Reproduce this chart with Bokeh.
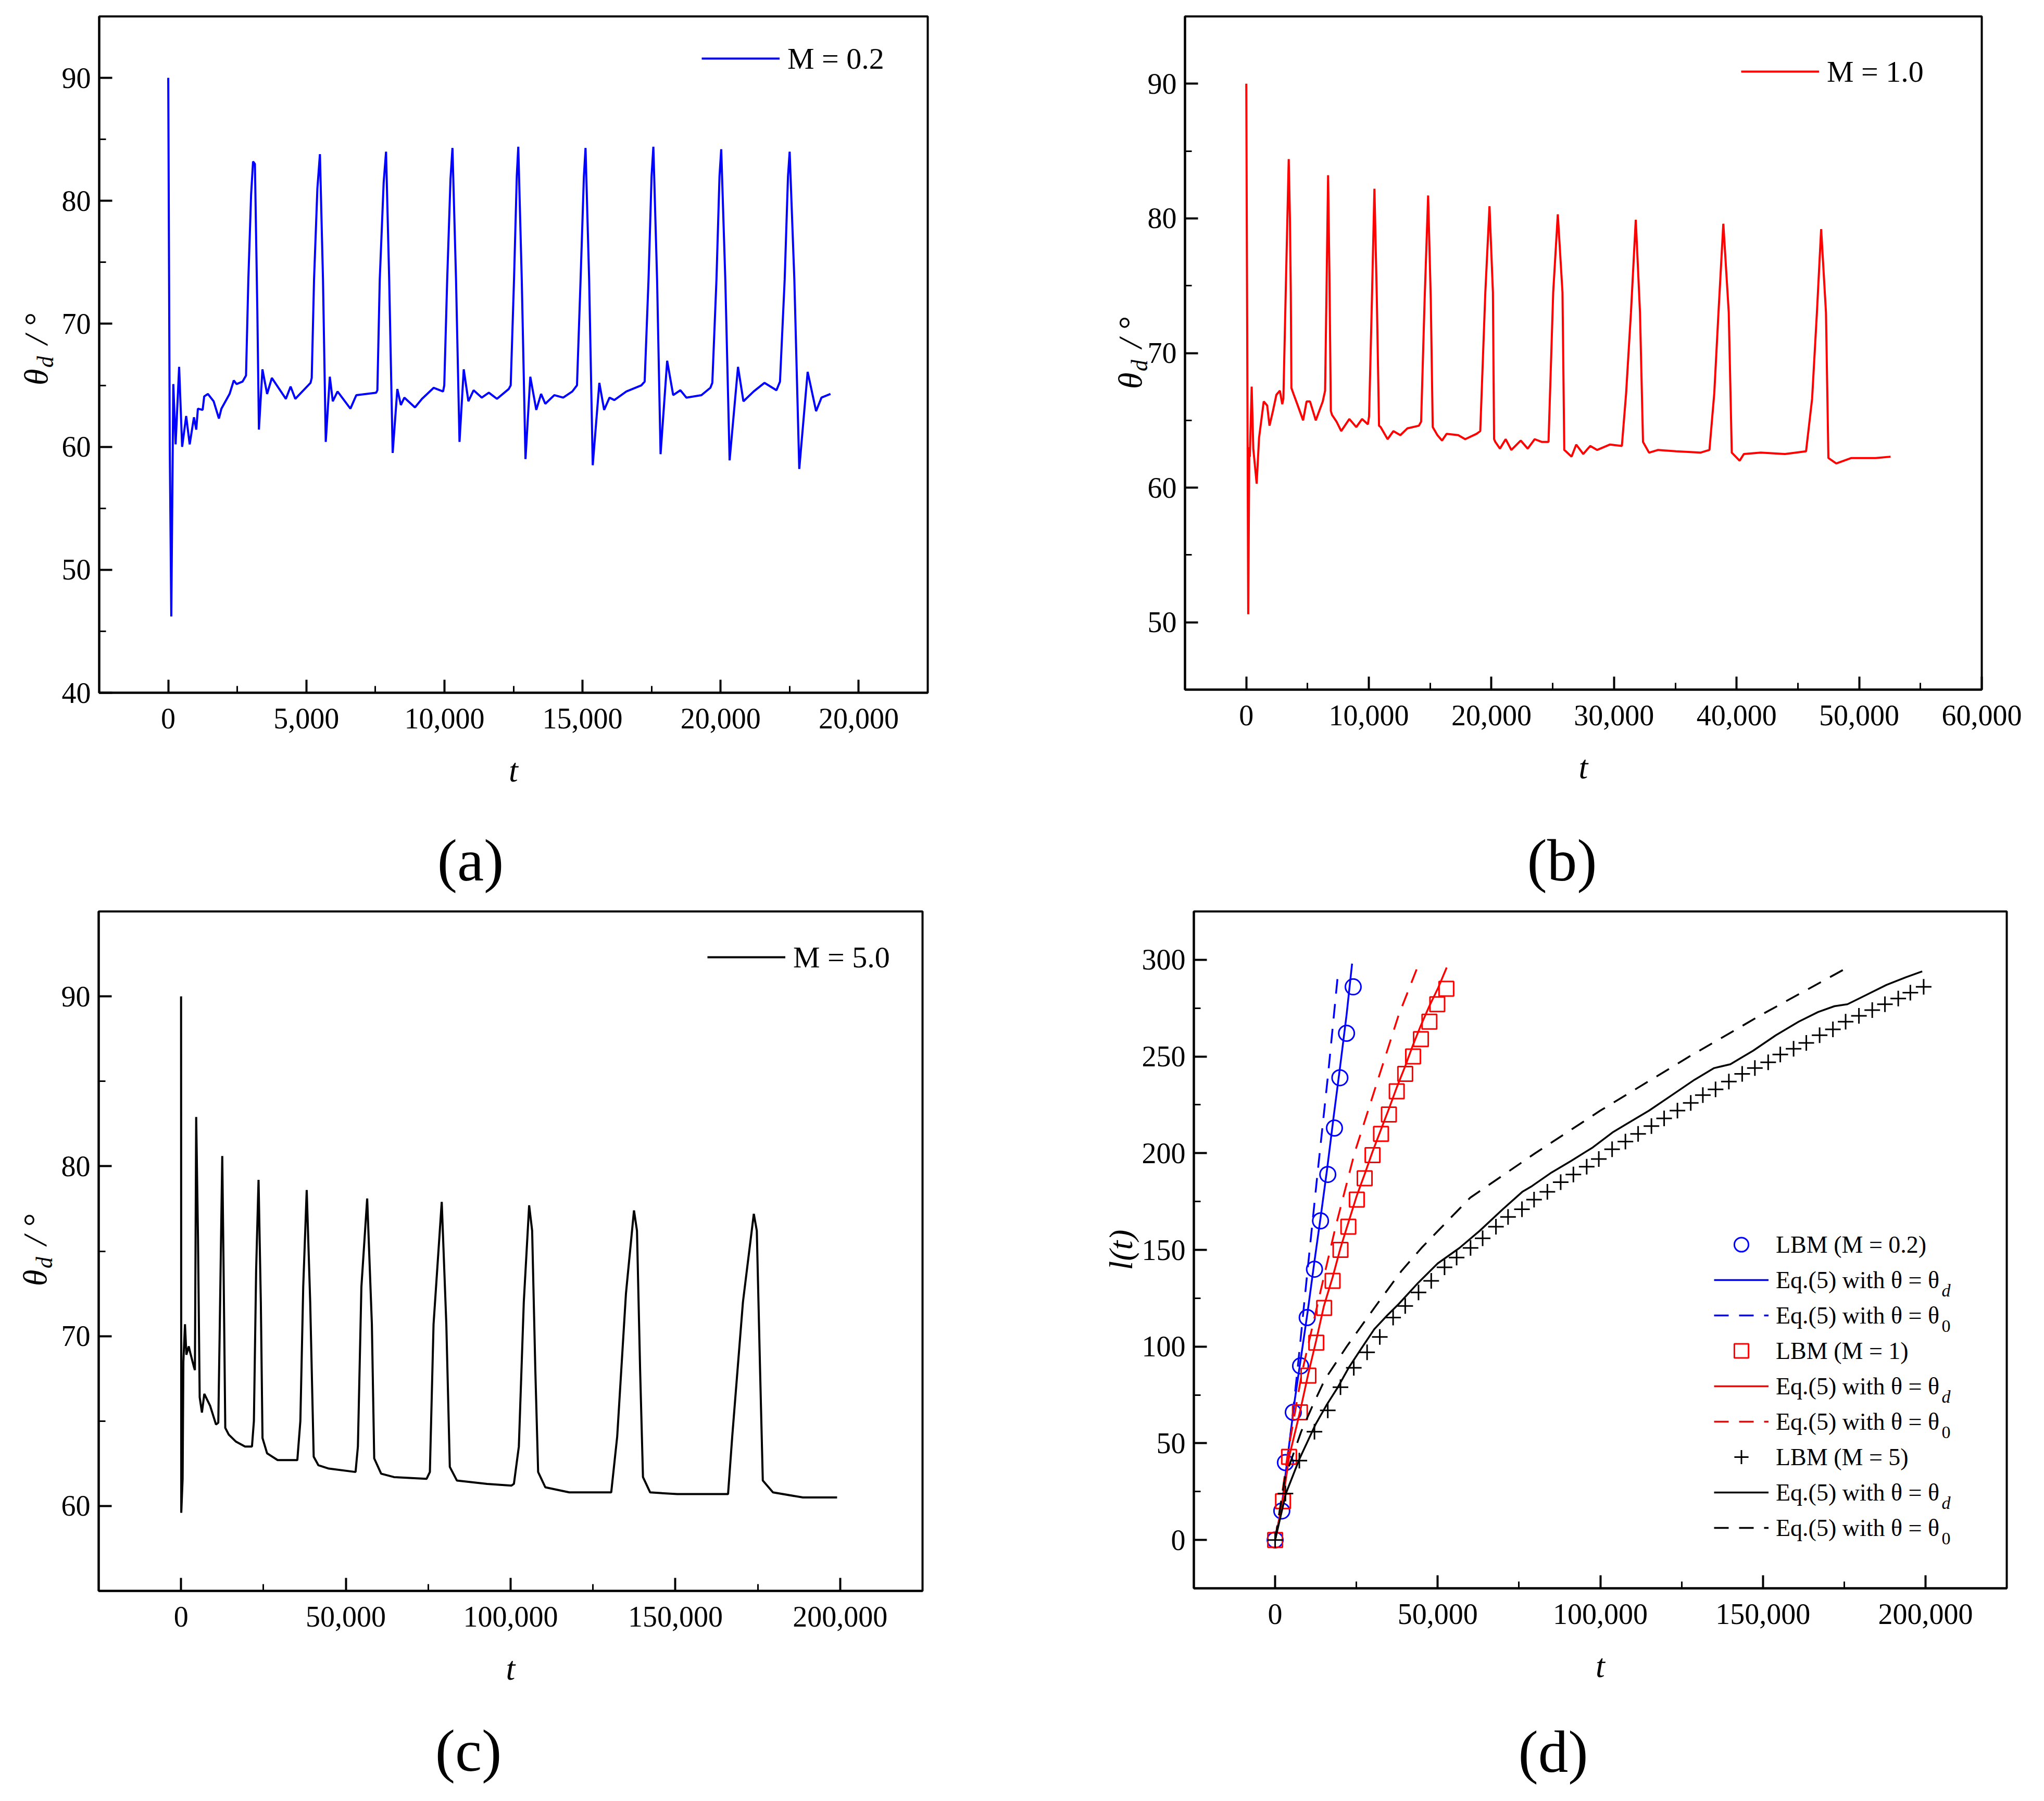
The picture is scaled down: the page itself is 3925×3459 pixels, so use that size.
import math

from bokeh.embed import file_html
from bokeh.layouts import column, row
from bokeh.models import FixedTicker, Label, Legend, LegendItem, Range1d
from bokeh.plotting import figure
from bokeh.resources import INLINE

SERIF = "Liberation Serif"
BLUE = "#0000FF"
RED = "#FF0000"
BLACK = "#000000"

# ---------------- (a) contact angle, M = 0.2 ----------------
a_t = [0, 55, 110, 183, 267, 394, 503, 649, 776, 930, 1014, 1073,
       1245, 1302, 1435, 1644, 1835, 1924, 2221, 2373, 2476, 2689, 2816,
       2900, 3000, 3071, 3138, 3225, 3283, 3410, 3580, 3751, 4259, 4430, 4600, 5152,
       5195, 5279, 5400, 5492, 5603, 5703, 5850, 5958, 6130, 6596, 6809, 7530,
       7572, 7658, 7800, 7886, 8000, 8126, 8295, 8423, 8550, 8933, 9188, 9612, 9951,
       9994, 10100, 10220, 10291, 10420, 10546, 10699, 10868, 11056, 11353, 11608, 11902, 12329,
       12400, 12520, 12620, 12674, 12800, 12935, 13109, 13326, 13500, 13652, 13978, 14300, 14630,
       14800, 14930, 15050, 15109, 15240, 15370, 15609, 15783, 15978, 16152, 16587, 17130,
       17250, 17390, 17500, 17565, 17700, 17826, 18065, 18283, 18543, 18761, 19304, 19630,
       19700, 19850, 19960, 20022, 20170, 20326, 20630, 20826, 21196, 21587, 22022,
       22150, 22320, 22440, 22500, 22670, 22848, 23152, 23457, 23652, 23978]
a_theta = [90.0, 60.0, 46.2, 65.1, 60.2, 66.5, 60.0, 62.5, 60.2, 62.4, 61.4, 63.1,
           63.0, 64.1, 64.3, 63.7, 62.3, 63.1, 64.3, 65.4, 65.1, 65.3, 65.8,
           73.6, 80.5, 83.2, 83.0, 71.2, 61.4, 66.3, 64.3, 65.6, 63.9, 64.9, 63.9, 65.2,
           65.6, 73.6, 81.0, 83.8, 73.6, 60.4, 65.7, 63.7, 64.5, 63.1, 64.2, 64.4,
           64.6, 73.6, 81.5, 84.0, 73.6, 59.5, 64.7, 63.4, 64.0, 63.2, 63.9, 64.8, 64.5,
           65.0, 73.6, 81.8, 84.3, 73.6, 60.4, 66.3, 63.7, 64.6, 64.0, 64.4, 63.9, 64.7,
           65.0, 73.6, 82.0, 84.4, 73.6, 59.0, 65.7, 63.0, 64.3, 63.5, 64.2, 64.0, 64.5,
           65.0, 73.6, 82.0, 84.3, 73.6, 58.5, 65.2, 63.0, 64.0, 63.8, 64.5, 65.0,
           65.3, 73.6, 82.0, 84.4, 73.6, 59.4, 67.0, 64.2, 64.6, 64.0, 64.2, 64.8,
           65.2, 73.6, 82.0, 84.2, 73.6, 58.9, 66.5, 63.7, 64.5, 65.2, 64.6,
           65.3, 73.6, 82.0, 84.0, 73.6, 58.2, 66.1, 62.9, 64.0, 64.3]

# ---------------- (b) contact angle, M = 1.0 ----------------
b_t = [0, 157, 246, 288, 440, 571, 846, 1041, 1422, 1705, 1893, 2175, 2456, 2742, 2932, 3026,
       3216, 3462, 3560, 3631, 3682, 3877, 4160, 4634, 4918, 5200, 5671, 6238, 6429,
       6550, 6674, 6780, 6898, 6995, 7364, 7744, 8409, 8973, 9446, 9920, 10017,
       10250, 10453, 10650, 10830, 10961, 11529, 11998, 12569, 13133, 14080, 14262,
       14550, 14834, 15050, 15210, 15592, 15968, 16345, 17288, 17859, 18790, 19087,
       19500, 19840, 20120, 20216, 20313, 20694, 21159, 21625, 22388, 22958, 23526, 24093, 24656,
       25037, 25413, 25795, 25942, 26069, 26535, 26915, 27490, 28059, 28627, 29655, 30640,
       30985, 31380, 31773, 32118, 32365, 32857, 33596, 35074, 37044, 37783,
       38177, 38521, 38916, 39359, 39606, 40246, 40591, 41970, 43941, 45665,
       46158, 46551, 46897, 47290, 47488, 48128, 49360, 51330, 52562]
b_theta = [90.0, 50.6, 63.0, 62.3, 67.5, 62.9, 60.3, 63.7, 66.4, 66.1, 64.6, 65.7, 66.9, 67.2, 66.2, 66.6,
           74.5, 84.4, 80.0, 74.5, 67.4, 66.9, 66.2, 65.0, 66.4, 66.4, 65.0, 66.4, 67.2,
           75.0, 83.2, 76.0, 65.7, 65.4, 64.9, 64.2, 65.1, 64.5, 65.1, 64.7, 65.3,
           74.0, 82.2, 74.0, 64.6, 64.5, 63.6, 64.2, 63.9, 64.4, 64.6, 64.9,
           74.0, 81.7, 74.0, 64.5, 63.9, 63.5, 64.0, 63.9, 63.6, 64.0, 64.2,
           74.5, 80.9, 74.5, 63.6, 63.4, 62.9, 63.6, 62.8, 63.5, 62.9, 63.6, 63.4, 63.4,
           74.5, 80.3, 74.5, 62.8, 62.7, 62.3, 63.2, 62.5, 63.1, 62.8, 63.2, 63.1,
           67.0, 73.0, 79.9, 73.0, 63.4, 62.6, 62.8, 62.7, 62.6, 62.8,
           67.0, 73.0, 79.6, 73.0, 62.6, 62.0, 62.5, 62.6, 62.5, 62.7,
           66.6, 73.0, 79.2, 73.0, 62.2, 61.8, 62.2, 62.2, 62.3]

# ---------------- (c) contact angle, M = 5.0 ----------------
c_t = [0, 60, 474, 696, 1187, 1614, 2326, 2816, 3876, 4200,
       4588, 5142, 5648, 6328, 7056, 8812, 10600, 11295,
       11700, 12498, 12900, 13415, 14475, 16579, 19411, 21515,
       22100, 22781, 23509, 24205, 24711, 26103, 29300, 32115, 35279,
       36200, 37067, 38126, 39186, 40247, 41655, 44834, 52950,
       53660, 54720, 56475, 57900, 58612, 60716, 64608, 74512,
       75500, 76616, 79100, 80492, 81552, 83688, 92862, 100269,
       101000, 102500, 104000, 105626, 106535, 107500, 108353, 110535, 117807, 130533,
       132351, 135000, 137441, 138350, 139300, 140168, 142350, 150531, 165984,
       167257, 170500, 173801, 174710, 175700, 176528, 179619, 188709, 199071]
c_theta = [90.0, 59.6, 61.6, 68.5, 70.7, 68.9, 69.4, 69.0, 68.2, 68.0,
           82.9, 75.7, 66.4, 65.5, 66.6, 65.9, 64.8, 64.9,
           70.0, 80.6, 74.0, 64.6, 64.2, 63.8, 63.5, 63.5,
           65.0, 73.9, 79.2, 72.0, 64.0, 63.1, 62.7, 62.7, 62.7,
           65.0, 72.9, 78.6, 72.0, 62.9, 62.4, 62.2, 62.0,
           63.5, 72.9, 78.1, 70.7, 62.8, 61.9, 61.7, 61.6,
           62.0, 70.7, 77.9, 70.7, 62.3, 61.5, 61.3, 61.2,
           61.3, 63.5, 72.0, 77.7, 76.2, 68.0, 62.0, 61.1, 60.8, 60.8,
           64.1, 72.5, 77.4, 76.2, 68.0, 61.7, 60.8, 60.7, 60.7,
           64.1, 72.0, 77.2, 76.2, 68.0, 61.5, 60.8, 60.5, 60.5]

# ---------------- (d) front position l(t) ----------------
d_lbm02_t = [0, 2047, 3163, 5581, 7814, 9860, 12093, 13953, 16186, 18233, 19907, 21953, 24000]
d_lbm02_l = [0, 15, 40, 66, 90, 115, 140, 165, 189, 213, 239, 262, 286]
d_eqd02_t = [0, 2000, 4000, 6000, 8000, 10000, 12000, 14000, 16000, 18000, 20000, 22000, 23660]
d_eqd02_l = [0, 17, 45, 72, 95, 118, 143, 167, 192, 219, 245, 272, 298]
d_eq002_t = [0, 1500, 3700, 7000, 10000, 13000, 16300, 19450]
d_eq002_l = [0, 15, 38, 90, 140, 189, 241, 295]

d_lbm1_t = [0, 2419, 4279, 7628, 10233, 12651, 15070, 17674, 20093, 22512, 25116,
            27535, 29953, 32558, 34977, 37395, 40000, 42419, 44837, 47442, 49861, 52651]
d_lbm1_l = [0, 20, 43, 66, 85, 102, 120, 134, 150, 162, 176,
            187, 199, 210, 220, 232, 241, 250, 259, 268, 277, 285]
d_eqd1_t = [0, 2400, 4300, 7600, 10200, 12600, 15000, 17700, 20100, 22500, 25100,
            27500, 30000, 32500, 35000, 37400, 40000, 42400, 44800, 47400, 50000, 52750]
d_eqd1_l = [0, 21, 43, 66, 86, 103, 121, 136, 151, 164, 178,
            189, 201, 212, 223, 234, 245, 256, 266, 276, 285, 296]
d_eq01_t = [0, 2000, 4000, 8300, 13600, 18600, 24400, 31800, 37900, 43500]
d_eq01_l = [0, 22, 46, 87, 126, 162, 200, 239, 271, 295]

d_lbm5_t = [0, 3163, 7442, 12093, 16186, 20093, 24186, 28279, 32186, 36279,
            40000, 44093, 48000, 52093, 55814, 60093, 63814, 67907, 71628, 75907,
            79628, 83721, 87814, 91721, 95814, 99535, 103628, 107721, 111628, 115721,
            119628, 123721, 127814, 131535, 135442, 139535, 143628, 147535, 151628, 155349,
            159442, 163349, 167442, 171535, 175442, 179535, 183628, 187535, 191628, 195349, 199442]
d_lbm5_l = [0, 24, 41, 56, 67, 79, 89, 97, 105, 115,
            121, 128, 134, 141, 146, 151, 156, 162, 167, 171,
            176, 180, 185, 189, 193, 197, 202, 206, 210, 214,
            218, 222, 226, 230, 233, 237, 241, 244, 247, 251,
            254, 257, 261, 264, 268, 271, 274, 277, 280, 283, 286]
d_eqd5_t = [0, 3300, 7500, 12500, 15900, 19300, 22600, 26500, 30500, 34400,
            38000, 44000, 50000, 56700, 63000, 70000, 76000, 79000, 85000, 91000,
            97700, 104000, 108000, 115000, 122000, 129000, 135000, 140000, 147000, 154000,
            161000, 167000, 172000, 176000, 182000, 188000, 194000, 199000]
d_eqd5_l = [0, 24, 42, 60, 70, 79, 89, 99, 109, 116,
            122, 133, 143, 151, 160, 171, 180, 183, 190, 196,
            203, 211, 215, 222, 230, 238, 244, 246, 253, 261,
            268, 273, 276, 277, 282, 287, 291, 294]
d_eq05_t = [0, 3000, 8000, 11400, 15300, 22000, 30500, 38800, 45000, 60000,
            80000, 100000, 127400, 150000, 177100]
d_eq05_l = [0, 32, 56, 69, 83, 100, 120, 139, 151, 177,
            200, 222, 250, 272, 297]

# ---------------- tick labels ----------------
a_xticks = [0, 5000, 10000, 15000, 20000, 25000]
a_xlabels = ["0", "5,000", "10,000", "15,000", "20,000", "20,000"]
a_yticks = [40, 50, 60, 70, 80, 90]
b_xticks = [0, 10000, 20000, 30000, 40000, 50000, 60000]
b_xlabels = ["0", "10,000", "20,000", "30,000", "40,000", "50,000", "60,000"]
b_yticks = [50, 60, 70, 80, 90]
c_xticks = [0, 50000, 100000, 150000, 200000]
c_xlabels = ["0", "50,000", "100,000", "150,000", "200,000"]
c_yticks = [60, 70, 80, 90]
d_yticks = [0, 50, 100, 150, 200, 250, 300]

legend_a = "M = 0.2"
legend_b = "M = 1.0"
legend_c = "M = 5.0"
legend_d = ["LBM (M = 0.2)", "Eq.(5) with θ = θ", "Eq.(5) with θ = θ",
            "LBM (M = 1)", "Eq.(5) with θ = θ", "Eq.(5) with θ = θ",
            "LBM (M = 5)", "Eq.(5) with θ = θ", "Eq.(5) with θ = θ"]
legend_d_sub = ["", "d", "0", "", "d", "0", "", "d", "0"]


def mids(ticks):
    return [(a + b) / 2 for a, b in zip(ticks[:-1], ticks[1:])]


def panel(xr, yr, fw, fh, left, right, top, bottom, xticks, xlabels, yticks):
    p = figure(x_range=Range1d(*xr), y_range=Range1d(*yr),
               width=left + fw + right, height=top + fh + bottom,
               frame_width=fw, frame_height=fh,
               min_border_left=left, min_border_right=right,
               min_border_top=top, min_border_bottom=bottom,
               title=None, output_backend="svg", toolbar_location=None)
    p.grid.visible = False
    p.outline_line_color = BLACK
    p.outline_line_width = 4
    p.outline_line_alpha = 1
    p.background_fill_color = "white"
    p.border_fill_color = "white"

    p.xaxis.ticker = FixedTicker(ticks=xticks, minor_ticks=mids(xticks))
    p.xaxis.major_label_overrides = dict(zip(xticks, xlabels))
    p.yaxis.ticker = FixedTicker(ticks=yticks, minor_ticks=mids(yticks))
    p.yaxis.major_label_overrides = {v: str(v) for v in yticks}

    for ax in (p.xaxis[0], p.yaxis[0]):
        ax.axis_line_width = 4
        ax.axis_line_color = BLACK
        ax.major_tick_in = 25
        ax.major_tick_out = 0
        ax.minor_tick_in = 13
        ax.minor_tick_out = 0
        ax.major_tick_line_width = 4
        ax.minor_tick_line_width = 3
        ax.major_tick_line_color = BLACK
        ax.minor_tick_line_color = BLACK
        ax.major_label_text_font = SERIF
        ax.major_label_text_font_size = "56px"
        ax.major_label_text_color = BLACK
        ax.axis_label_text_font = SERIF
        ax.axis_label_text_font_size = "64px"
        ax.axis_label_text_font_style = "italic"
        ax.axis_label_text_color = BLACK
    p.xaxis.major_label_standoff = 30
    p.yaxis.major_label_standoff = 16
    p.xaxis.axis_label = "t"
    p.xaxis.axis_label_standoff = 42
    return p


def theta_label(p, x, y_theta, y_sub, side_sub):
    # y label θ_d / °: main text plus a smaller subscript, canvas coordinates
    common = dict(x_units="canvas", y_units="canvas", angle=math.pi / 2,
                  text_align="left", text_baseline="alphabetic", text_font=SERIF,
                  text_font_style="italic", text_color=BLACK)
    p.add_layout(Label(x=x, y=y_theta, text="θ\u2009\u2009\u200a / °",
                       text_font_size="64px", **common), "left")
    p.add_layout(Label(x=x + 18, y=y_sub, text="d", text_font_size="44px", **common), side_sub)


def panel_letter(p, text, x, y):
    p.add_layout(Label(x=x, y=y, x_units="canvas", y_units="canvas", text=text,
                       text_align="center", text_baseline="middle",
                       text_font=SERIF, text_font_size="115px", text_color=BLACK), "below")


def single_legend(p, r, text, loc):
    leg = Legend(items=[LegendItem(label=text, renderers=[r])], location=loc,
                 glyph_width=150, glyph_height=70, label_height=70, label_standoff=15,
                 padding=0, spacing=0, margin=0, border_line_color=None,
                 background_fill_alpha=0, label_text_font=SERIF,
                 label_text_font_size="58px", label_text_color=BLACK)
    p.add_layout(leg)


# (a)
pa = panel((-2500, 27500), (40, 95), 1591, 1299, 190, 173, 23, 410, a_xticks, a_xlabels, a_yticks)
ra = pa.line(a_t, a_theta, line_color=BLUE, line_width=4)
single_legend(pa, ra, legend_a, (1157, 1183))
theta_label(pa, 69, 739.5, 705.5, "right")
panel_letter(pa, "(a)", 903, 1652)

# (b)
pb = panel((-5000, 60000), (45, 95), 1530, 1293, 321, 104, 31, 408, b_xticks, b_xlabels, b_yticks)
rb = pb.line(b_t, b_theta, line_color=RED, line_width=4)
single_legend(pb, rb, legend_b, (1068, 1152))
theta_label(pb, 216, 746.5, 712.5, "left")
panel_letter(pb, "(b)", 1045, 1652)

# (c)
pc = panel((-25000, 225000), (55, 95), 1582, 1305, 189, 183, 18, 388, c_xticks, c_xlabels, c_yticks)
rc = pc.line(c_t, c_theta, line_color=BLACK, line_width=4)
single_legend(pc, rc, legend_c, (1169, 1182))
theta_label(pc, 67, 737.5, 703.5, "right")
panel_letter(pc, "(c)", 899, 1630)

# (d)
pd = panel((-25000, 225000), (-25, 325), 1561, 1300, 338, 56, 18, 393, c_xticks, c_xlabels, d_yticks)
pd.yaxis.axis_label = "l(t)"
pd.yaxis.axis_label_standoff = 2
dash = "28 20"
r1 = pd.scatter(d_lbm02_t, d_lbm02_l, marker="circle", size=30, fill_color=None,
                line_color=BLUE, line_width=3)
r2 = pd.line(d_eqd02_t, d_eqd02_l, line_color=BLUE, line_width=3.5)
r3 = pd.line(d_eq002_t, d_eq002_l, line_color=BLUE, line_width=3.5, line_dash=dash)
r4 = pd.scatter(d_lbm1_t, d_lbm1_l, marker="square", size=28, fill_color=None,
                line_color=RED, line_width=3)
r5 = pd.line(d_eqd1_t, d_eqd1_l, line_color=RED, line_width=3.5)
r6 = pd.line(d_eq01_t, d_eq01_l, line_color=RED, line_width=3.5, line_dash=dash)
r7 = pd.scatter(d_lbm5_t, d_lbm5_l, marker="cross", size=30, line_color=BLACK, line_width=3)
r8 = pd.line(d_eqd5_t, d_eqd5_l, line_color=BLACK, line_width=3.5)
r9 = pd.line(d_eq05_t, d_eq05_l, line_color=BLACK, line_width=3.5, line_dash=dash)

rows_d = [r1, r2, r3, r4, r5, r6, r7, r8, r9]
leg_d = Legend(items=[LegendItem(label=t, renderers=[r]) for t, r in zip(legend_d, rows_d)],
               location=(999, 82), glyph_width=105, glyph_height=68, label_height=68,
               label_standoff=14, padding=0, spacing=0, margin=0, border_line_color=None,
               background_fill_alpha=0, label_text_font=SERIF, label_text_font_size="46px",
               label_text_color=BLACK)
pd.add_layout(leg_d)
for k, sub in enumerate(legend_d_sub):
    if sub:
        yc = 82 + (9 - k) * 68 - 34
        style = "italic" if sub == "d" else "normal"
        pd.add_layout(Label(x=1436, y=yc - 20, x_units="screen", y_units="screen", text=sub,
                            text_align="left", text_baseline="alphabetic", text_font=SERIF,
                            text_font_style=style, text_font_size="34px", text_color=BLACK))
panel_letter(pd, "(d)", 1028, 1632)

layout = column(row(pa, pb), row(pc, pd))

open("out.html", "w").write(file_html(layout, INLINE))
